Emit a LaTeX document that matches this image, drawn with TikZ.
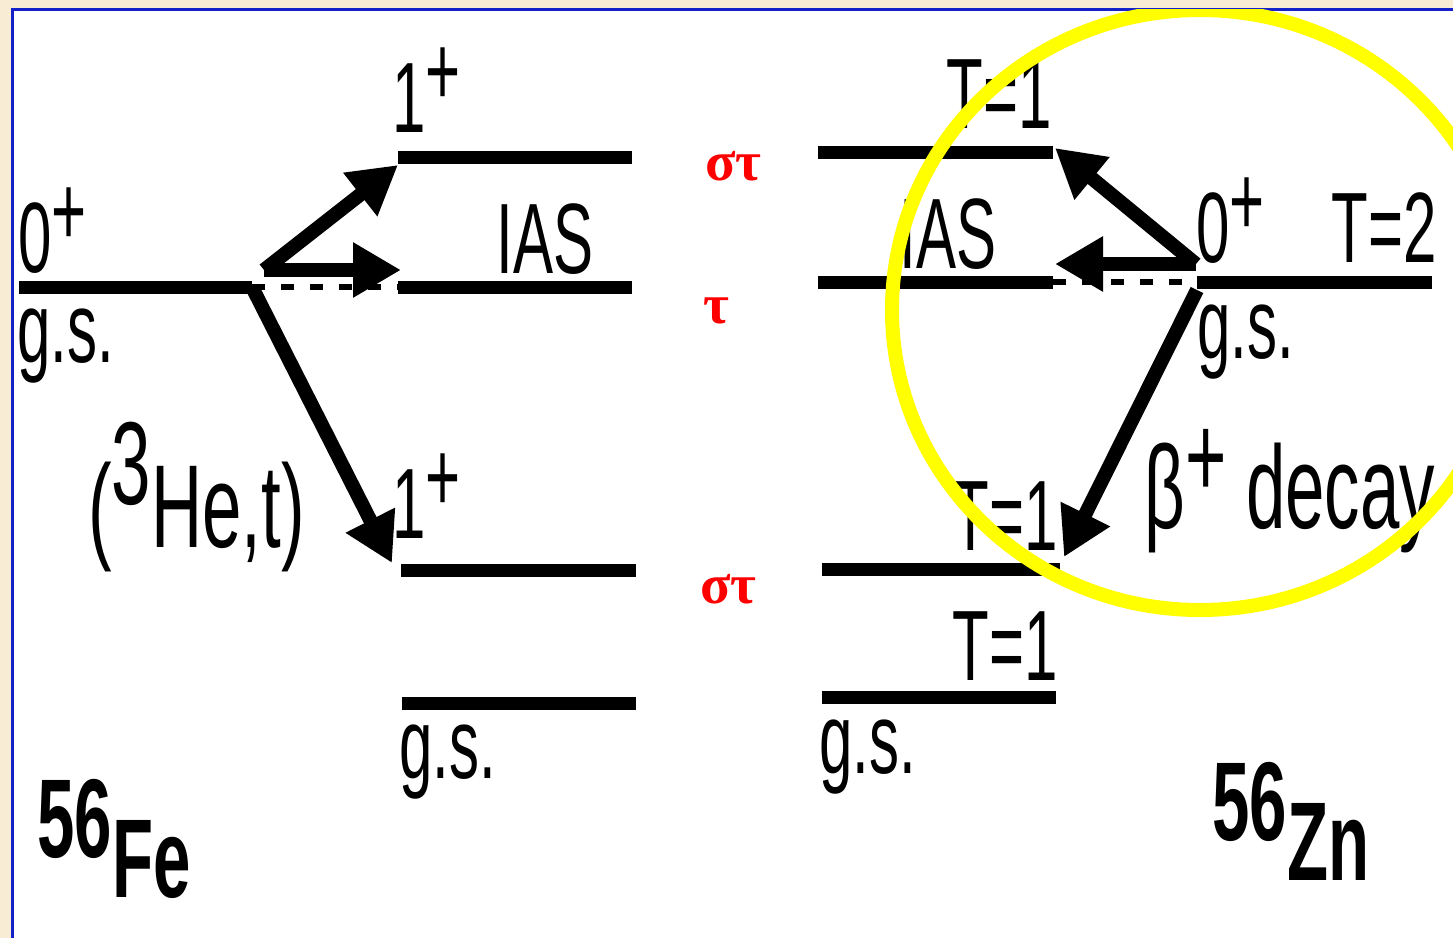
\documentclass[tikz,border=0pt]{standalone}
\usepackage{fontspec}
\setmainfont{Liberation Sans}[FakeStretch=0.6]
\newfontfamily\greekfont{Liberation Serif}
\usetikzlibrary{positioning, arrows.meta}
\definecolor{slidebg}{HTML}{F9ECD4}
\definecolor{frameblue}{HTML}{1420C8}
\definecolor{ringyellow}{HTML}{FFFF00}
\definecolor{opred}{HTML}{FF0000}

\begin{document}
\begin{tikzpicture}[
    x=0.5pt, y=-0.5pt,
    % Energy level
    level/.style={line width=6.5pt},
    % Transition arrows
    trans/.style={line width=7pt, -{Triangle[length=24pt, width=26pt]}},
    % Analog (dashed) line
    analog/.style={line width=3pt, dash pattern=on 6.5pt off 8pt},
    % Black labels
    lbl/.style={font=\fontsize{50}{55}\selectfont, inner sep=0pt, anchor=base west},
    bigl/.style={font=\fontsize{59}{62}\selectfont, inner sep=0pt, anchor=base west},
    nucl/.style={font=\bfseries\fontsize{56}{60}\selectfont, inner sep=0pt, anchor=base west},
    % Red operator labels
    oper/.style={font=\greekfont\bfseries\fontsize{28}{30}\selectfont, text=opred, inner sep=0pt, anchor=base west}
]

% Slide background and frame
\useasboundingbox (0,0) rectangle (1453,938);
\fill[slidebg] (0,0) rectangle (1453,938);
\fill[white] (12,9) rectangle (1453,938);
\draw[frameblue, line width=1.5pt] (12,938) -- (12,9) -- (1453,9);
\clip (12,9) rectangle (1453,938);

% Level end points, 56Fe side
\coordinate (feL) at (19,287);   \coordinate (feR) at (252,287);
\coordinate (oneaL) at (398,157); \coordinate (oneaR) at (632,157);
\coordinate (iasaL) at (398,287); \coordinate (iasaR) at (632,287);
\coordinate (onebL) at (401,570); \coordinate (onebR) at (636,570);
\coordinate (mnL) at (402,703);   \coordinate (mnR) at (636,703);

% Level end points, 56Zn side
\coordinate (znL) at (1197,282);  \coordinate (znR) at (1432,282);
\coordinate (tacL) at (818,152);  \coordinate (tacR) at (1053,152);
\coordinate (iascL) at (818,282); \coordinate (iascR) at (1053,282);
\coordinate (tbcL) at (822,569);  \coordinate (tbcR) at (1060,569);
\coordinate (cogL) at (822,697);  \coordinate (cogR) at (1056,697);

% Arrow ends
\coordinate (feX) at (264,270);
\coordinate (oneaT) at (398,165);
\coordinate (iasaT) at (401,270);
\coordinate (onebT) at (392,563);
\coordinate (znX) at (1196,264);
\coordinate (znD) at (1197,290);
\coordinate (tacT) at (1055,148);
\coordinate (iascT) at (1055,264);
\coordinate (tbcT) at (1064,557);

% Levels
\draw[level] (feL) -- (feR);
\draw[level] (oneaL) -- (oneaR);
\draw[level] (iasaL) -- (iasaR);
\draw[level] (onebL) -- (onebR);
\draw[level] (mnL) -- (mnR);
\draw[level] (znL) -- (znR);
\draw[level] (tacL) -- (tacR);
\draw[level] (iascL) -- (iascR);
\draw[level] (tbcL) -- (tbcR);
\draw[level] (cogL) -- (cogR);

% Analog lines
\draw[analog] (feR) -- (iasaL);
\draw[analog] (iascR) -- (znL);

% Transitions
\draw[trans] (feX) -- (oneaT);
\draw[trans] (feX) -- (iasaT);
\draw[trans] (feR) -- (onebT);
\draw[trans] (znX) -- (tacT);
\draw[trans] (znX) -- (iascT);
\draw[trans] (znD) -- (tbcT);

% Labels, 56Fe side
\node[lbl] (feSpin) at (18,272) {0\raisebox{0.27em}{+}};
\node[lbl] (feGs) at (17,362) {g.s.};
\node[lbl] (spinA) at (392,132) {1\raisebox{0.27em}{+}};
\node[lbl] (iasA) at (496,273) {IAS};
\node[bigl] (reaction) at (88,547) {(\raisebox{0.36em}{3}He,t)};
\node[lbl] (spinB) at (392,538) {1\raisebox{0.27em}{+}};
\node[lbl] (mnGs) at (399,778) {g.s.};
\node[nucl] (fe) at (37,857) {56\raisebox{-20pt}{Fe}};

% Operators
\node[oper] (opA) at (705,180) {στ};
\node[oper] (opB) at (703,323) {τ};
\node[oper] (opC) at (700,603) {στ};

% Labels, 56Zn side
\node[lbl] (isoA) at (946,128) {T=1};
\node[lbl] (iasC) at (899,268) {IAS};
\node[lbl] (znSpin) at (1196,262) {0\raisebox{0.27em}{+}};
\node[lbl] (znIso) at (1331,262) {T=2};
\node[lbl] (znGs) at (1197,358) {g.s.};
\node[bigl] (decay) at (1144,528) {β\raisebox{0.26em}{+} decay};
\node[lbl] (isoB) at (952,550) {T=1};
\node[lbl] (isoC) at (952,680) {T=1};
\node[lbl] (coGs) at (819,773) {g.s.};
\node[nucl] (zn) at (1212,840) {56\raisebox{-20pt}{Zn}};

% Highlight ring
\draw[ringyellow, line width=7pt] (1200,310) ellipse [x radius=308, y radius=300];

\end{tikzpicture}
\end{document}
